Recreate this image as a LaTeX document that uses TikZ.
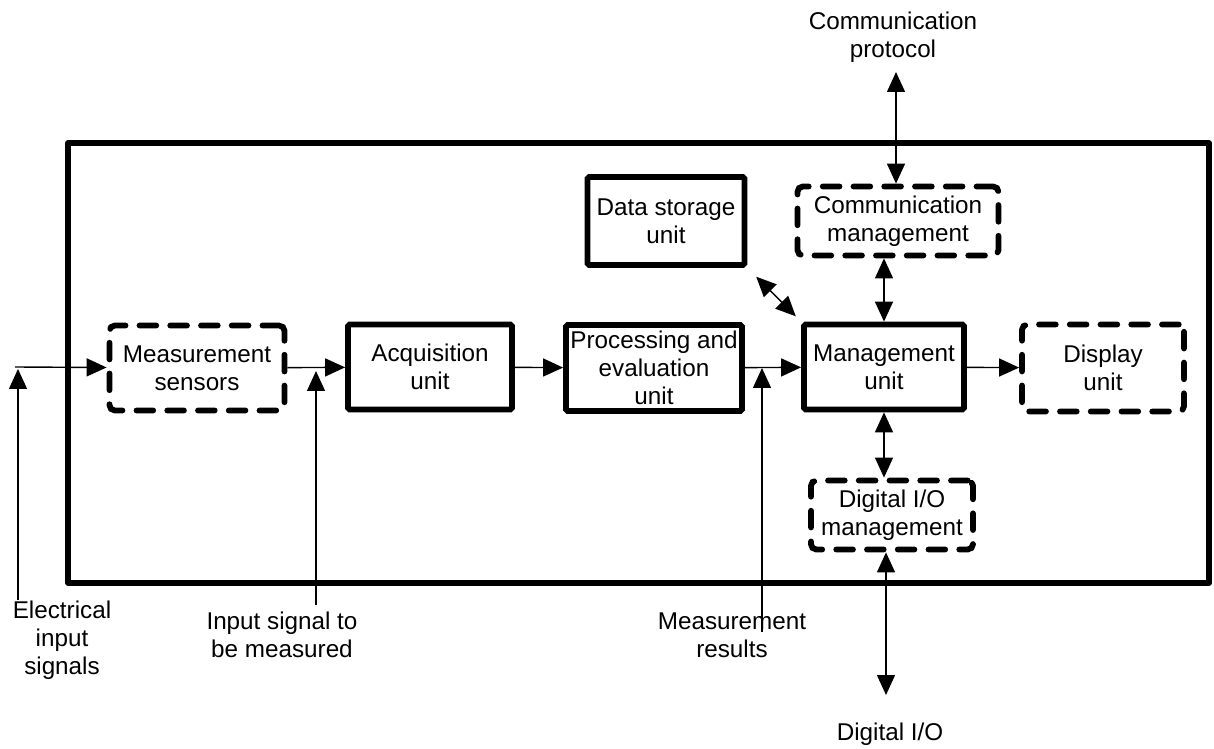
\documentclass[tikz,border=0pt]{standalone}
\usepackage{fontspec}
\setmainfont{Liberation Sans}
\usepackage{tikz}
\usetikzlibrary{arrows.meta,positioning,calc}
\tikzstyle{block} = [rectangle, draw, line width=3.3pt, align=center, rounded corners=1pt, inner sep=0pt]
\tikzstyle{dblock} = [block, dash pattern=on 9.5pt off 8pt, line cap=round, rounded corners=3pt]
\tikzstyle{lbl} = [align=center, inner sep=0pt]
\tikzset{edge/.style = {
    >={Triangle[length=0.4cm,width=0.36cm]},
    line width=0.8pt, ->,
  },
  bedge/.style = {edge, <->}
}

\begin{document}
\begin{tikzpicture}[x=0.02cm, y=-0.02cm, font=\fontsize{13.8}{15.9}\selectfont]
            \useasboundingbox (0,0) rectangle (1214,749);
            % frame
            \draw[line width=3pt, line join=round] (68,143) rectangle (1209,583);

            % vertices
            \node[dblock, minimum width=3.5cm, minimum height=1.7cm] (sens) at (197,368) {Measurement\\sensors};
            \node[block, minimum width=3.28cm, minimum height=1.7cm] (acq) at (430,367) {Acquisition\\unit};
            \node[block, minimum width=3.52cm, minimum height=1.72cm] (proc) at (654,368) {Processing and\\evaluation\\unit};
            \node[block, minimum width=3.14cm, minimum height=1.76cm] (store) at (666,221) {Data storage\\unit};
            \node[dblock, minimum width=4.02cm, minimum height=1.38cm] (comm) at (898,221) {Communication\\management};
            \node[block, minimum width=3.2cm, minimum height=1.7cm] (mgmt) at (884,367) {Management\\unit};
            \node[dblock, minimum width=3.24cm, minimum height=1.74cm] (disp) at (1103,368) {Display\\unit};
            \node[dblock, minimum width=3.24cm, minimum height=1.38cm] (dio) at (892,515) {Digital I/O\\management};

            % labels
            \node[lbl] (proto) at (893,37) {Communication\\protocol};
            \node[lbl] (elec) at (62,640) {Electrical\\input\\signals};
            \node[lbl] (insig) at (282,635) {Input signal to\\be measured};
            \node[lbl] (res) at (732,635) {Measurement\\results};
            \node[lbl] (diol) at (890,734) {Digital I/O};

            % free ends
            \coordinate (elin) at (15,367);
            \coordinate (elsrc) at (18,600);
            \coordinate (eltip) at (18,369);
            \coordinate (insrc) at (316,605);
            \coordinate (intip) at (316,371);
            \coordinate (ressrc) at (762,632);
            \coordinate (restip) at (762,368);
            \coordinate (protoend) at (896,72);
            \coordinate (dioend) at (886,695);

            %edges
            \draw[edge] (elin) -- (sens);
            \draw[edge] (elsrc) -- (eltip);
            \draw[edge] (sens) -- (acq);
            \draw[edge] (insrc) -- (intip);
            \draw[edge] (acq) -- (proc);
            \draw[edge] (proc) -- (mgmt);
            \draw[edge] (ressrc) -- (restip);
            \draw[edge] (mgmt) -- (disp);
            \draw[bedge, shorten <=0.25cm, shorten >=0.15cm] (store.south east) -- (mgmt.north west);
            \draw[bedge] (protoend) -- (protoend |- comm.north);
            \draw[bedge] (mgmt.north) -- (mgmt.north |- comm.south);
            \draw[bedge] (mgmt.south) -- (mgmt.south |- dio.north);
            \draw[bedge] (dioend |- dio.south) -- (dioend);
          \end{tikzpicture}
\end{document}
